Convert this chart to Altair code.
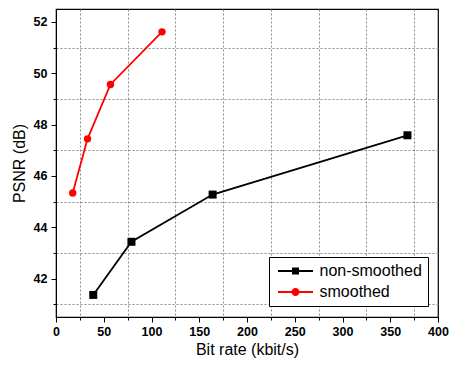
import altair as alt
import pandas as pd

# ---- data ----
series_names = ["non-smoothed", "smoothed"]
series_colors = ["#000000", "#ff0000"]

ns_rate = [39, 79, 164, 368]
ns_psnr = [41.36, 43.43, 45.27, 47.58]

s_rate = [17.5, 33, 57, 111]
s_psnr = [45.33, 47.44, 49.56, 51.61]

x_ticks = list(range(0, 401, 25))
y_ticks = list(range(41, 53))

df_ns = pd.DataFrame({"rate": ns_rate, "psnr": ns_psnr, "series": series_names[0]})
df_s = pd.DataFrame({"rate": s_rate, "psnr": s_psnr, "series": series_names[1]})
df_all = pd.concat([df_ns, df_s], ignore_index=True)

FONT = "Liberation Sans"

x_enc = alt.X(
    "rate:Q",
    scale=alt.Scale(domain=[0, 400], nice=False),
    axis=alt.Axis(
        values=x_ticks,
        title="Bit rate (kbit/s)",
        labelExpr="datum.value % 50 === 0 ? datum.label : ''",
        labelOverlap=False,
        labelFlush=False,
        gridOpacity={"condition": {"test": "datum.value % 50 !== 0", "value": 1}, "value": 0},
        tickSize={"condition": {"test": "datum.value % 50 === 0", "value": 5}, "value": 3},
        labelPadding=3,
        titlePadding=4,
    ),
)
y_enc = alt.Y(
    "psnr:Q",
    scale=alt.Scale(domain=[40.5, 52.5], nice=False, zero=False),
    axis=alt.Axis(
        values=y_ticks,
        title="PSNR (dB)",
        labelExpr="datum.value % 2 === 0 ? datum.label : ''",
        labelOverlap=False,
        labelFlush=False,
        gridOpacity={"condition": {"test": "datum.value % 2 !== 0", "value": 1}, "value": 0},
        tickSize={"condition": {"test": "datum.value % 2 === 0", "value": 5}, "value": 3},
        labelPadding=4,
        titlePadding=6,
    ),
)

line_ns = alt.Chart(df_ns).mark_line(color=series_colors[0], strokeWidth=1.8).encode(x=x_enc, y=y_enc)
pts_ns = alt.Chart(df_ns).mark_square(color=series_colors[0], size=64, opacity=1).encode(x=x_enc, y=y_enc)
line_s = alt.Chart(df_s).mark_line(color=series_colors[1], strokeWidth=1.8).encode(x=x_enc, y=y_enc)
pts_s = alt.Chart(df_s).mark_circle(color=series_colors[1], size=55, opacity=1).encode(x=x_enc, y=y_enc)

path_sq = "M-3.5,-0.18H3.5V0.18H-3.5Z M-0.7,-0.7H0.7V0.7H-0.7Z"
path_ci = "M-3.5,-0.18H3.5V0.18H-3.5Z M-0.8,0A0.8,0.8,0,1,1,0.8,0A0.8,0.8,0,1,1,-0.8,0Z"

leg = alt.Legend(
    title=None,
    orient="none",
    legendX=213,
    legendY=248,
    symbolSize=100,
    symbolStrokeWidth=0,
    symbolOpacity=1,
    symbolOffset=12.5,
    labelOffset=16,
    labelFont=FONT,
    labelFontSize=16,
    labelColor="black",
    labelLimit=400,
    padding=6,
    rowPadding=5,
    strokeColor="black",
    fillColor="white",
)

legend_layer = alt.Chart(df_all).mark_point(filled=True, opacity=0).encode(
    x=x_enc,
    y=y_enc,
    color=alt.Color("series:N", scale=alt.Scale(domain=series_names, range=series_colors), legend=leg),
    shape=alt.Shape("series:N", scale=alt.Scale(domain=series_names, range=[path_sq, path_ci]), legend=leg),
)

chart = (
    alt.layer(line_ns, line_s, pts_ns, pts_s, legend_layer)
    .properties(
        width=382,
        height=308,
        autosize=alt.AutoSizeParams(type="none"),
        padding={"left": 48, "top": 1, "right": 11, "bottom": 44},
        background="white",
    )
    .configure_view(stroke="black", strokeWidth=1.2)
    .configure_axis(
        labelFont=FONT,
        labelFontSize=12.5,
        labelFontWeight="bold",
        labelColor="black",
        titleFont=FONT,
        titleFontSize=16,
        titleFontWeight="normal",
        titleColor="black",
        domainColor="black",
        tickColor="black",
        gridColor="#8a8a8a",
        gridDash=[2, 2],
        gridWidth=1,
    )
)

chart.save("out.html", embed_options={"renderer": "svg", "actions": False})
